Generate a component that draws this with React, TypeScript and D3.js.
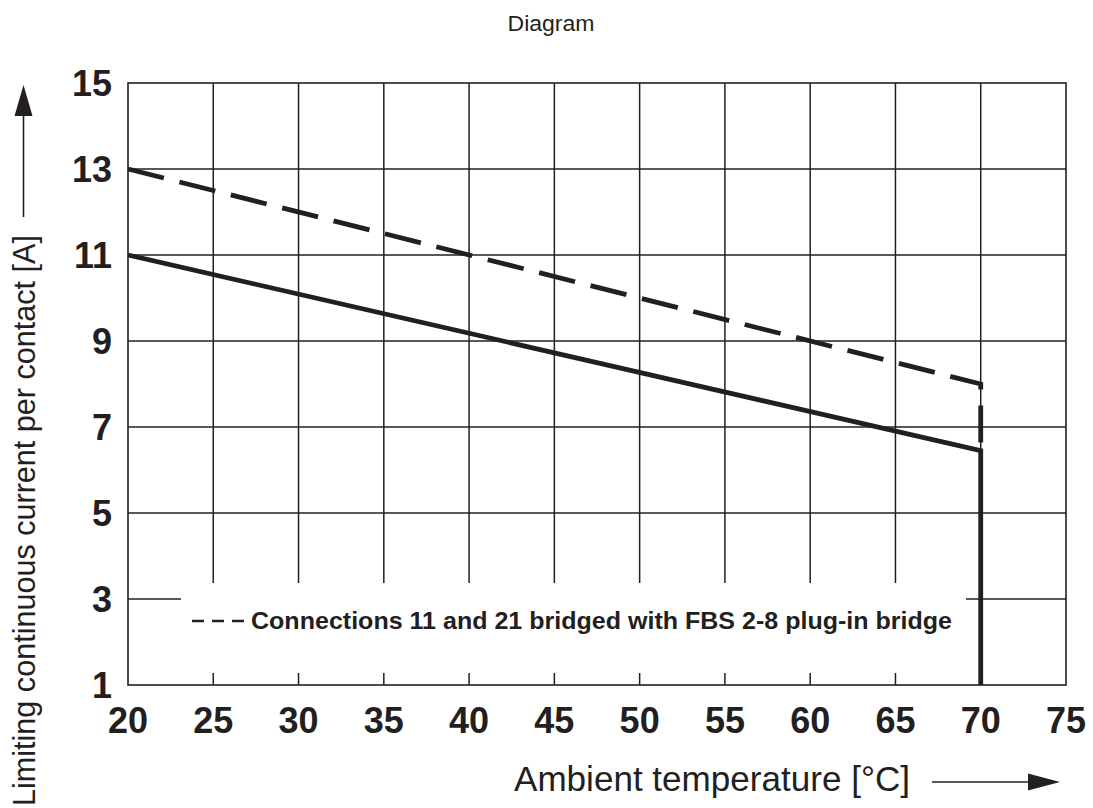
import React, { useRef, useEffect } from "react";
import * as d3 from "d3";

// ---- data ----
const xTicks = [20, 25, 30, 35, 40, 45, 50, 55, 60, 65, 70, 75];
const yTicks = [1, 3, 5, 7, 9, 11, 13, 15];

// solid curve: standard connection
const solidTemp = [20, 70, 70];
const solidCurrent = [11, 6.45, 1];

// dashed curve: bridged with FBS 2-8
const dashedTemp = [20, 70, 70];
const dashedCurrent = [13, 8, 6.45];

const legendLabel = "Connections 11 and 21 bridged with FBS 2-8 plug-in bridge";
const xLabel = "Ambient temperature [°C]";
const yLabel = "Limiting continuous current per contact [A]";
const title = "Diagram";

const INK = "#231f20";
const FONT = "'Liberation Sans', Arial, Helvetica, sans-serif";

export default function App() {
  const ref = useRef<SVGSVGElement>(null);

  useEffect(() => {
    const width = 1093;
    const height = 808;
    const margin = { top: 83, right: 27, bottom: 123, left: 128 };

    const svg = d3.select(ref.current);
    svg.selectAll("*").remove();

    const xScale = d3
      .scaleLinear()
      .domain([20, 75])
      .range([margin.left, width - margin.right]);
    const yScale = d3
      .scaleLinear()
      .domain([1, 15])
      .range([height - margin.bottom, margin.top]);

    // title
    svg
      .append("text")
      .attr("x", 551)
      .attr("y", 31)
      .attr("text-anchor", "middle")
      .attr("textLength", 87)
      .attr("lengthAdjust", "spacingAndGlyphs")
      .style("font-family", FONT)
      .style("font-size", "22px")
      .attr("fill", INK)
      .text(title);

    // grid
    const grid = svg.append("g").attr("stroke", INK).attr("stroke-width", 1.5);
    grid
      .selectAll("line.v")
      .data(xTicks.slice(1, -1))
      .join("line")
      .attr("class", "v")
      .attr("x1", (d) => xScale(d))
      .attr("x2", (d) => xScale(d))
      .attr("y1", yScale(1))
      .attr("y2", yScale(15));
    grid
      .selectAll("line.h")
      .data(yTicks.slice(1, -1))
      .join("line")
      .attr("class", "h")
      .attr("x1", xScale(20))
      .attr("x2", xScale(75))
      .attr("y1", (d) => yScale(d))
      .attr("y2", (d) => yScale(d));

    // white box behind the legend, cuts the grid
    svg
      .append("rect")
      .attr("x", 181)
      .attr("y", 583)
      .attr("width", 966 - 181)
      .attr("height", 673 - 583)
      .attr("fill", "white");

    // frame
    svg
      .append("rect")
      .attr("x", xScale(20))
      .attr("y", yScale(15))
      .attr("width", xScale(75) - xScale(20))
      .attr("height", yScale(1) - yScale(15))
      .attr("fill", "none")
      .attr("stroke", INK)
      .attr("stroke-width", 1.6);

    // curves
    const line = d3
      .line<[number, number]>()
      .x((d) => xScale(d[0]))
      .y((d) => yScale(d[1]));

    const dashedPts = dashedTemp.map((t, i) => [t, dashedCurrent[i]] as [number, number]);
    const solidPts = solidTemp.map((t, i) => [t, solidCurrent[i]] as [number, number]);

    svg
      .append("path")
      .attr("d", line(dashedPts))
      .attr("fill", "none")
      .attr("stroke", INK)
      .attr("stroke-width", 4.8)
      .attr("stroke-dasharray", "37 16");

    svg
      .append("path")
      .attr("d", line(solidPts))
      .attr("fill", "none")
      .attr("stroke", INK)
      .attr("stroke-width", 4.8)
      .attr("stroke-linejoin", "miter");

    // tick labels
    svg
      .append("g")
      .selectAll("text")
      .data(xTicks)
      .join("text")
      .attr("x", (d) => xScale(d))
      .attr("y", 733)
      .attr("text-anchor", "middle")
      .style("font-family", FONT)
      .style("font-weight", "bold")
      .style("font-size", "36px")
      .attr("fill", INK)
      .text((d) => d);

    svg
      .append("g")
      .selectAll("text")
      .data(yTicks)
      .join("text")
      .attr("x", 112)
      .attr("y", (d) => yScale(d) + 13)
      .attr("text-anchor", "end")
      .style("font-family", FONT)
      .style("font-weight", "bold")
      .style("font-size", "36px")
      .attr("fill", INK)
      .text((d) => d);

    // legend
    svg
      .append("line")
      .attr("x1", 192)
      .attr("x2", 245)
      .attr("y1", 621)
      .attr("y2", 621)
      .attr("stroke", INK)
      .attr("stroke-width", 2.5)
      .attr("stroke-dasharray", "12 8");
    svg
      .append("text")
      .attr("x", 251)
      .attr("y", 629)
      .attr("textLength", 701)
      .attr("lengthAdjust", "spacingAndGlyphs")
      .style("font-family", FONT)
      .style("font-weight", "bold")
      .style("font-size", "24.5px")
      .attr("fill", INK)
      .text(legendLabel);

    // x axis label + arrow
    svg
      .append("text")
      .attr("x", 910)
      .attr("y", 791)
      .attr("text-anchor", "end")
      .attr("textLength", 396)
      .attr("lengthAdjust", "spacingAndGlyphs")
      .style("font-family", FONT)
      .style("font-size", "35px")
      .attr("fill", INK)
      .text(xLabel);
    svg
      .append("line")
      .attr("x1", 932)
      .attr("x2", 1030)
      .attr("y1", 782)
      .attr("y2", 782)
      .attr("stroke", INK)
      .attr("stroke-width", 1.6);
    svg
      .append("path")
      .attr("d", "M1028,773.5 L1060,782 L1028,790.5 Z")
      .attr("fill", INK);

    // y axis label + arrow
    svg
      .append("text")
      .attr("transform", "translate(35,235) rotate(-90)")
      .attr("text-anchor", "end")
      .attr("textLength", 571)
      .attr("lengthAdjust", "spacingAndGlyphs")
      .style("font-family", FONT)
      .style("font-size", "30.5px")
      .attr("fill", INK)
      .text(yLabel);
    svg
      .append("line")
      .attr("x1", 23.5)
      .attr("x2", 23.5)
      .attr("y1", 114)
      .attr("y2", 217)
      .attr("stroke", INK)
      .attr("stroke-width", 1.6);
    svg
      .append("path")
      .attr("d", "M14.5,116 L23.5,85 L32.5,116 Z")
      .attr("fill", INK);
  }, []);

  return (
    <svg
      ref={ref}
      width={1093}
      height={808}
      style={{ position: "absolute", left: 0, top: 0, background: "white" }}
    />
  );
}
